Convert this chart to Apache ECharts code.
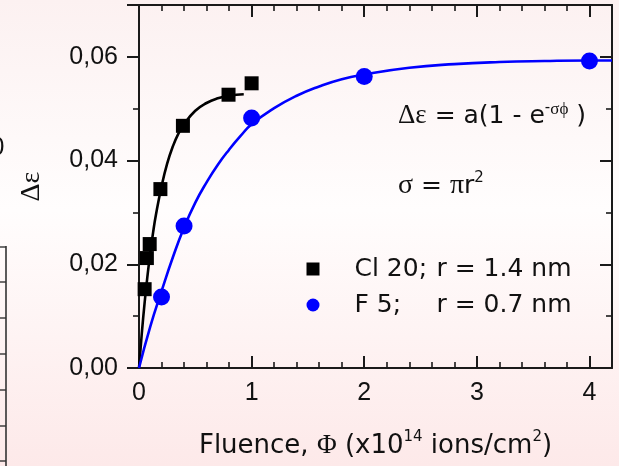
<!DOCTYPE html>
<html><head><meta charset="utf-8">
<script src="https://cdn.jsdelivr.net/npm/echarts@6/dist/echarts.min.js"></script>
<style>
html,body{margin:0;padding:0;}
body{width:619px;height:466px;overflow:hidden;background:linear-gradient(to bottom,#fcf1f1 0%,#fffdfd 45%,#fde9e9 100%);}
#c{width:619px;height:466px;}
</style></head><body><div id="c"></div>
<script>
// ---- data ----
const xTicks = [0, 1, 2, 3, 4];
const yTicks = [0, 0.02, 0.04, 0.06];
const clName = 'Cl 20; r = 1.4 nm';
const fName = 'F 5;    r = 0.7 nm';
// measured points
const clPhi = [0.05, 0.07, 0.095, 0.19, 0.39, 0.795, 1.0];
const clDe  = [0.0152, 0.0212, 0.0239, 0.0345, 0.0467, 0.0527, 0.0549];
const fPhi  = [0.2, 0.4, 1.0, 2.0, 4.0];
const fDe   = [0.0137, 0.0274, 0.0482, 0.0562, 0.0592];
// fitted curves
const clFitPhi = [0, 0.025, 0.05, 0.075, 0.1, 0.125, 0.15, 0.2, 0.25, 0.3, 0.35, 0.4, 0.5, 0.6, 0.7, 0.8, 0.93];
const clFitDe  = [0, 0.0067, 0.0126, 0.0177, 0.0222, 0.0261, 0.0295, 0.0350, 0.0394, 0.0427, 0.0452, 0.0470, 0.0496, 0.0511, 0.0520, 0.0525, 0.0528];
const fFitPhi  = [0, 0.1, 0.2, 0.3, 0.4, 0.5, 0.6, 0.7, 0.8, 0.9, 1.0, 1.2, 1.4, 1.6, 1.8, 2.0, 2.4, 2.8, 3.2, 3.6, 4.0, 4.2];
const fFitDe   = [0, 0.0080, 0.0148, 0.0213, 0.0271, 0.0319, 0.0358, 0.0392, 0.0421, 0.0447, 0.0470, 0.0501, 0.0525, 0.0543, 0.0557, 0.0566, 0.0579, 0.0586, 0.0590, 0.0592, 0.0593, 0.0593];

const zip = (a, b) => a.map((v, i) => [v, b[i]]);
const AX = '#1a1a1a';
const TXT = '#111';
const tickFont = 'Liberation Sans';
const annFont = 'DejaVu Sans';
const greekFont = 'Liberation Serif';

const yFmt = v => yTicks.some(t => Math.abs(t - v) < 1e-9) ? v.toFixed(2).replace('.', ',') : '';
const xFmt = v => xTicks.some(t => Math.abs(t - v) < 1e-9) ? String(v) : '';

function xAx(pos) {
  const bottom = pos === 'bottom';
  return {
    type: 'value', position: pos, min: 0, max: 4.2, interval: 1,
    axisLine: { onZero: false, lineStyle: { color: AX, width: 2 } },
    axisTick: { inside: true, length: 12, lineStyle: { color: AX, width: 2 } },
    minorTick: { show: true, splitNumber: 5, length: 6, lineStyle: { color: AX, width: 1.6 } },
    splitLine: { show: false }, minorSplitLine: { show: false },
    axisLabel: { show: bottom, showMaxLabel: false, margin: 13, fontFamily: tickFont, fontSize: 25, color: TXT, formatter: xFmt },
    name: bottom ? '{t|Fluence, }{g|Φ}{t| (x10}{s|14}{t| ions/cm}{s|2}{t|)}' : '',
    nameLocation: 'middle', nameGap: 62,
    nameTextStyle: {
      rich: {
        t: { fontFamily: annFont, fontSize: 26, color: TXT, lineHeight: 32 },
        g: { fontFamily: greekFont, fontSize: 27, color: TXT, lineHeight: 32 },
        s: { fontFamily: annFont, fontSize: 15, color: TXT, lineHeight: 15, verticalAlign: 'top' }
      }
    }
  };
}
function yAx(pos) {
  const left = pos === 'left';
  return {
    type: 'value', position: pos, min: 0, max: 0.07, interval: 0.02,
    axisLine: { onZero: false, lineStyle: { color: AX, width: 2 } },
    axisTick: { inside: !left, length: 12, lineStyle: { color: AX, width: 2 } },
    minorTick: { show: true, splitNumber: 2, length: 6, lineStyle: { color: AX, width: 1.6 } },
    splitLine: { show: false }, minorSplitLine: { show: false },
    axisLabel: { show: left, showMaxLabel: false, margin: 21, fontFamily: tickFont, fontSize: 25, color: TXT, formatter: yFmt },
    name: left ? 'Δε' : '', nameLocation: 'middle', nameGap: 93,
    nameTextStyle: { fontFamily: greekFont, fontSize: 28, color: TXT }
  };
}

const chart = echarts.init(document.getElementById('c'), null, { renderer: 'canvas' });
chart.setOption({
  backgroundColor: 'transparent',
  animation: false,
  grid: { left: 139, top: 5, width: 473, height: 363, containLabel: false },
  xAxis: [xAx('bottom'), xAx('top')],
  yAxis: [yAx('left'), yAx('right')],
  legend: {
    orient: 'vertical', left: 306.5, top: 256.5, padding: 0, itemGap: 11,
    itemWidth: 13, itemHeight: 13,
    data: [{ name: clName, icon: 'rect' }, { name: fName, icon: 'circle' }],
    formatter: n => { const p = n.split(';'); return '{a|' + p[0] + ';}{b|' + p[1].trim() + '}'; },
    textStyle: {
      fontFamily: annFont, fontSize: 25, color: TXT, padding: [0, 0, 0, 30],
      rich: {
        a: { fontFamily: annFont, fontSize: 25, color: TXT, width: 82 },
        b: { fontFamily: annFont, fontSize: 25, color: TXT }
      }
    }
  },
  graphic: [
    { type: 'text', x: 398, y: 116, style: {
        text: '{g|Δε}{n| = a(1 - e}{s|-}{sg|σϕ}{n| )}', verticalAlign: 'middle', align: 'left',
        rich: {
          g: { fontFamily: greekFont, fontSize: 27, fill: TXT, lineHeight: 30 },
          n: { fontFamily: annFont, fontSize: 25, fill: TXT, lineHeight: 30 },
          s: { fontFamily: annFont, fontSize: 15, fill: TXT, lineHeight: 15, verticalAlign: 'top' },
          sg: { fontFamily: greekFont, fontSize: 17, fill: TXT, lineHeight: 15, verticalAlign: 'top' }
        } } },
    { type: 'text', x: 398, y: 186, style: {
        text: '{g|σ}{n| = }{g|π}{n|r}{s|2}', verticalAlign: 'middle', align: 'left',
        rich: {
          g: { fontFamily: greekFont, fontSize: 28, fill: TXT, lineHeight: 30 },
          n: { fontFamily: annFont, fontSize: 25, fill: TXT, lineHeight: 30 },
          s: { fontFamily: annFont, fontSize: 15, fill: TXT, lineHeight: 15, verticalAlign: 'top' }
        } } },
    // cut-off fragment of a neighbouring figure at the left edge
    { type: 'text', x: -9.5, y: 148, style: { text: '0', fontFamily: tickFont, fontSize: 25, fill: TXT, verticalAlign: 'middle' } },
    { type: 'line', shape: { x1: 6, y1: 246, x2: 6, y2: 466 }, style: { stroke: '#333', lineWidth: 1.6 } },
    ...[247, 282, 318, 354, 390, 426, 461].map(y => ({ type: 'line', shape: { x1: 0, y1: y, x2: 6, y2: y }, style: { stroke: '#333', lineWidth: 1.4 } }))
  ],
  series: [
    { name: 'Cl fit', type: 'line', data: zip(clFitPhi, clFitDe), smooth: true, showSymbol: false, silent: true,
      lineStyle: { color: '#000', width: 2.6 }, z: 2 },
    { name: 'F fit', type: 'line', data: zip(fFitPhi, fFitDe), smooth: true, showSymbol: false, silent: true,
      lineStyle: { color: '#0000ff', width: 2.6 }, z: 2 },
    { name: clName, type: 'scatter', data: zip(clPhi, clDe), symbol: 'rect', symbolSize: 14,
      itemStyle: { color: '#000', opacity: 1 }, z: 3 },
    { name: fName, type: 'scatter', data: zip(fPhi, fDe), symbol: 'circle', symbolSize: 17,
      itemStyle: { color: '#0000ff', opacity: 1 }, z: 3 }
  ]
});
</script>
</body></html>
